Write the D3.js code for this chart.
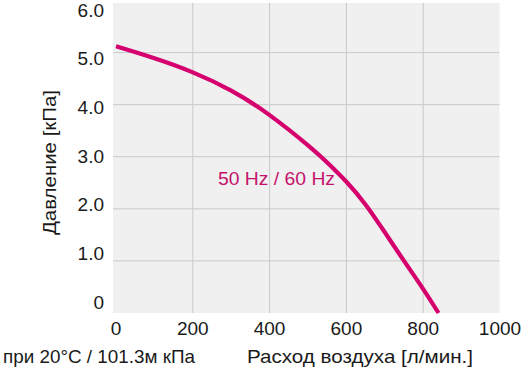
<!DOCTYPE html>
<html>
<head>
<meta charset="utf-8">
<script src="https://cdn.jsdelivr.net/npm/d3@7"></script>
<style>
  body { margin: 0; background: #fff; }
  svg text { font-family: "Liberation Sans", Arial, sans-serif; }
</style>
</head>
<body>
<svg width="521" height="373"></svg>
<script>
// flow in l/min, pressure in kPa
var flow = [0, 100, 200, 300, 400, 500, 550, 600, 650, 700, 750, 800, 840];
var pressure = [5.12, 4.89, 4.62, 4.27, 3.80, 3.22, 2.89, 2.52, 2.08, 1.55, 1.00, 0.46, 0];

var xTicks = [0, 200, 400, 600, 800, 1000];
var yTicks = [0, 1, 2, 3, 4, 5, 6];
var yTickLabels = ["0", "1.0", "2.0", "3.0", "4.0", "5.0", "6.0"];

var curveLabel = "50 Hz / 60 Hz";
var yTitle = "Давление [кПа]";
var xTitle = "Расход воздуха [л/мин.]";
var note = "при 20°C / 101.3м кПа";

var svg = d3.select("svg");

var x = d3.scaleLinear().domain([0, 1000]).range([116, 500]);
var y = d3.scaleLinear().domain([0, 6]).range([313, 0.5]);
// tick labels sit on a slightly tighter spacing than the grid
var yLab = d3.scaleLinear().domain([0, 6]).range([308.5, 16.5]);

var pink = "#d5006e";

svg.append("rect")
    .attr("x", 113)
    .attr("y", 3)
    .attr("width", 386.5)
    .attr("height", 310)
    .attr("fill", "#f0f0f0");

// grid
svg.selectAll(".vgrid").data(xTicks.slice(1, -1))
  .enter().append("line")
    .attr("class", "vgrid")
    .attr("x1", function(d) { return x(d); })
    .attr("x2", function(d) { return x(d); })
    .attr("y1", 3)
    .attr("y2", 313)
    .attr("stroke", "#c9c9c9")
    .attr("stroke-width", 1);

svg.selectAll(".hgrid").data(yTicks.slice(1, -1))
  .enter().append("line")
    .attr("class", "hgrid")
    .attr("x1", 113)
    .attr("x2", 499.5)
    .attr("y1", function(d) { return y(d); })
    .attr("y2", function(d) { return y(d); })
    .attr("stroke", "#c9c9c9")
    .attr("stroke-width", 1);

// tick labels
svg.selectAll(".xlab").data(xTicks)
  .enter().append("text")
    .attr("class", "xlab")
    .attr("x", function(d) { return x(d); })
    .attr("y", 335)
    .attr("text-anchor", "middle")
    .style("font-size", "19px")
    .style("fill", "#1a1a1a")
    .text(function(d) { return d; });

svg.selectAll(".ylab").data(yTicks)
  .enter().append("text")
    .attr("class", "ylab")
    .attr("x", 104)
    .attr("y", function(d) { return yLab(d); })
    .attr("text-anchor", "end")
    .style("font-size", "19px")
    .style("fill", "#1a1a1a")
    .text(function(d, i) { return yTickLabels[i]; });

// curve
var line = d3.line()
    .x(function(d, i) { return x(flow[i]); })
    .y(function(d) { return y(d); })
    .curve(d3.curveNatural);

svg.append("path")
    .datum(pressure)
    .attr("d", line)
    .attr("fill", "none")
    .attr("stroke", pink)
    .attr("stroke-width", 4.2);

svg.append("text")
    .attr("x", 218)
    .attr("y", 185)
    .attr("textLength", 117)
    .attr("lengthAdjust", "spacingAndGlyphs")
    .style("font-size", "19px")
    .style("fill", "#c4126c")
    .text(curveLabel);

// titles
svg.append("text")
    .attr("transform", "translate(56,162.5) rotate(-90)")
    .attr("text-anchor", "middle")
    .attr("textLength", 145)
    .attr("lengthAdjust", "spacingAndGlyphs")
    .style("font-size", "19px")
    .style("fill", "#1a1a1a")
    .text(yTitle);

svg.append("text")
    .attr("x", 247)
    .attr("y", 363)
    .attr("textLength", 226)
    .attr("lengthAdjust", "spacingAndGlyphs")
    .style("font-size", "19px")
    .style("fill", "#1a1a1a")
    .text(xTitle);

svg.append("text")
    .attr("x", 3)
    .attr("y", 363)
    .attr("textLength", 192)
    .attr("lengthAdjust", "spacingAndGlyphs")
    .style("font-size", "19px")
    .style("fill", "#1a1a1a")
    .text(note);
</script>
</body>
</html>
